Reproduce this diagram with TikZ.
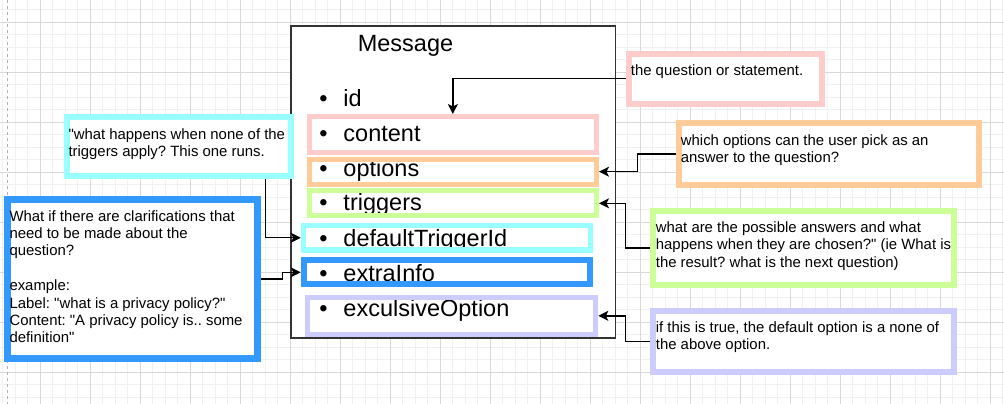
\documentclass[tikz,border=0pt]{standalone}
\usepackage{fontspec}
\setmainfont{Liberation Sans}[Ligatures=TeXOff]
\usetikzlibrary{arrows.meta}
\definecolor{pinkc}{HTML}{FFCCCC}
\definecolor{orangec}{HTML}{FFCC99}
\definecolor{greenc}{HTML}{CCFF99}
\definecolor{cyanc}{HTML}{99FFFF}
\definecolor{bluec}{HTML}{3399FF}
\definecolor{lavc}{HTML}{CCCCFF}
\definecolor{gridminor}{HTML}{F1F1F1}
\definecolor{gridmajor}{HTML}{D9D9D9}
\definecolor{boxline}{HTML}{333333}
\tikzset{
  fieldbox/.style={draw=#1, line width=5pt, outer sep=2.5pt, inner sep=0pt, fill=none},
  callout/.style={draw=#1, line width=6pt, outer sep=3pt, inner sep=0pt, fill=white},
  fieldtext/.style={anchor=base west, inner sep=0pt, font=\fontsize{23.5}{28}\selectfont},
  ctext/.style={anchor=base west, inner sep=0pt, font=\fontsize{14.9}{17.4}\selectfont},
  conn/.style={draw=black, line width=1.3pt, -{Stealth[length=10pt,width=10pt,inset=2.5pt]}},
  gminor/.style={draw=gridminor, line width=1pt},
  gmajor/.style={draw=gridmajor, line width=1pt}
}
\newcommand{\fld}[1]{\makebox[24.1pt][l]{•}#1}
\frenchspacing
\begin{document}
\begin{tikzpicture}[x=1pt,y=-1pt]
\useasboundingbox (0,0) rectangle (1004,404);
\fill[white] (0,0) rectangle (1004,404);
% grid
\foreach \i in {0,...,80} {\draw[gminor] ({2.5+12.5*\i},0) -- ({2.5+12.5*\i},404);}
\foreach \i in {0,...,32} {\draw[gminor] (0,{9.8+12.5*\i}) -- (1004,{9.8+12.5*\i});}
\foreach \i in {0,...,19} {\draw[gmajor] ({40+50*\i},0) -- ({40+50*\i},404);}
\foreach \i in {0,...,7} {\draw[gmajor] (0,{22.3+50*\i}) -- (1004,{22.3+50*\i});}
\draw[gray!60, line width=1pt, dash pattern=on 3pt off 3pt] (7,0) -- (7,404);

% Message box
\node[draw=boxline, line width=1.3pt, fill=white, inner sep=0pt, minimum width=324.7pt, minimum height=312pt] (msg) at (453.35,182) {};
\node[anchor=base, inner sep=0pt, font=\fontsize{23.5}{28}\selectfont] (title) at (405.5,51.7) {Message};

% field texts
\node[fieldtext] (tid) at (319.2,106.7) {\fld{id}};
\node[fieldtext] (tcontent) at (319.2,141.7) {\fld{content}};
\node[fieldtext] (toptions) at (319.2,176.7) {\fld{options}};
\node[fieldtext] (ttriggers) at (319.2,210.7) {\fld{triggers}};
\node[fieldtext] (tdefault) at (319.2,246) {\fld{defaultTriggerId}};
\node[fieldtext] (textra) at (319.2,281.7) {\fld{extraInfo}};
\node[fieldtext] (texcl) at (319.2,316) {\fld{exculsiveOption}};

% field boxes
\node[fieldbox=pinkc, minimum width=287.3pt, minimum height=36pt] (fcontent) at (452.85,134.5) {};
\node[fieldbox=orangec, minimum width=287.3pt, minimum height=25pt] (foptions) at (452.85,171.7) {};
\node[fieldbox=greenc, minimum width=287.3pt, minimum height=25pt] (ftriggers) at (452.85,203.3) {};
\node[fieldbox=cyanc, minimum width=287pt, minimum height=24.5pt, line width=5.5pt, outer sep=2.75pt] (fdefault) at (447,237.75) {};
\node[fieldbox=bluec, minimum width=286.6pt, minimum height=24pt, line width=6pt, outer sep=3pt] (fextra) at (447,272.3) {};
\node[fieldbox=lavc, minimum width=288.3pt, minimum height=36.7pt] (fexcl) at (451.65,315.85) {};

% callouts
\node[callout=pinkc, minimum width=193.6pt, minimum height=49.7pt] (cpink) at (725.5,78.85) {};
\node[callout=orangec, minimum width=300pt, minimum height=61.7pt] (corange) at (828.7,153.85) {};
\node[callout=greenc, minimum width=300.4pt, minimum height=74.6pt] (cgreen) at (803.5,248) {};
\node[callout=lavc, minimum width=300.4pt, minimum height=61.3pt] (clav) at (803.5,341.35) {};
\node[callout=cyanc, minimum width=224.5pt, minimum height=59.5pt] (ccyan) at (178.75,146.25) {};
\node[callout=bluec, line width=7pt, outer sep=3.5pt, minimum width=249.4pt, minimum height=158.7pt] (cblue) at (132.5,278.85) {};

% callout texts
\node[ctext] (xpink) at (630.7,76) {\parbox[t]{190pt}{\raggedright the question or statement.}};
\node[ctext] (xorange) at (680.7,145) {\parbox[t]{300pt}{\raggedright which options can the user pick as an\\answer to the question?}};
\node[ctext] (xgreen) at (655.7,232.3) {\parbox[t]{300pt}{\raggedright what are the possible answers and what\\happens when they are chosen?" (ie What is\\the result? what is the next question)}};
\node[ctext] (xlav) at (655.7,332.3) {\parbox[t]{300pt}{\raggedright if this is true, the default option is a none of\\the above option.}};
\node[ctext] (xcyan) at (68.3,139.3) {\parbox[t]{225pt}{\raggedright "what happens when none of the\\triggers apply? This one runs.}};
\node[ctext] (xblue) at (9.3,221) {\parbox[t]{250pt}{\raggedright What if there are clarifications that\\need to be made about the\\question?\\\mbox{}\\example:\\Label: "what is a privacy policy?"\\Content: "A privacy policy is.. some\\definition"}};

% connectors
\coordinate (cyanout) at (265.7,179);
\draw[conn] (cpink.west) -| (fcontent.north);
\draw[conn] (corange.west) -- ++(-38,0) |- (foptions.east);
\draw[conn] (cgreen.west) -- ++(-25,0) |- (ftriggers.east);
\draw[conn] (clav.west) -- ++(-25,0) |- (fexcl.east);
\draw[conn] (cyanout) |- (fdefault.west);
\draw[conn] (cblue.east) -- ++(22,0) |- (fextra.west);
\end{tikzpicture}
\end{document}
